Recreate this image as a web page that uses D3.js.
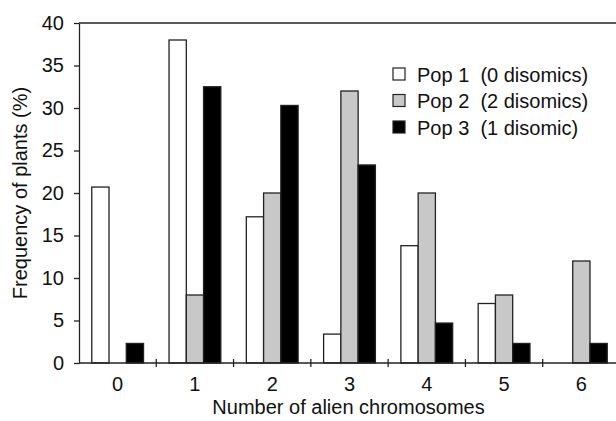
<!DOCTYPE html>
<html>
<head>
<meta charset="utf-8">
<script src="https://cdn.jsdelivr.net/npm/d3@7.9.0/dist/d3.min.js"></script>
<style>
  body { margin: 0; background: #fff; }
  svg { display: block; font-family: "Liberation Sans", Arial, sans-serif; }
</style>
</head>
<body>
<svg id="chart" width="616" height="421"></svg>
<script>
// data
const categories = ['0', '1', '2', '3', '4', '5', '6'];
const seriesNames = ['Pop 1  (0 disomics)', 'Pop 2  (2 disomics)', 'Pop 3  (1 disomic)'];
const seriesColors = ['#ffffff', '#c8c8c8', '#000000'];
const pop1 = [20.7, 38.0, 17.2, 3.4, 13.8, 7.0, 0];
const pop2 = [0, 8.0, 20.0, 32.0, 20.0, 8.0, 12.0];
const pop3 = [2.3, 32.5, 30.3, 23.3, 4.7, 2.3, 2.3];
const yTicks = [0, 5, 10, 15, 20, 25, 30, 35, 40];

const series = [pop1, pop2, pop3];
const ink = '#222';
const fontSize = 20;

const svg = d3.select('#chart');
const plotLeft = 79, plotRight = 620, plotTop = 23, plotBottom = 363;

const x = d3.scaleBand().domain(categories).range([plotLeft, plotRight]).paddingInner(0);
const bw = x.bandwidth();
const xs = d3.scaleBand().domain(d3.range(series.length)).range([bw * 0.165, bw * 0.835]);
const y = d3.scaleLinear().domain([0, 40]).range([plotBottom, plotTop]);

// bars
series.forEach((vals, si) => {
  svg.append('g').selectAll('rect')
    .data(vals.map((v, i) => ({ cat: categories[i], v })).filter(d => d.v > 0))
    .join('rect')
    .attr('x', d => x(d.cat) + xs(si))
    .attr('y', d => y(d.v))
    .attr('width', xs.bandwidth())
    .attr('height', d => y(0) - y(d.v))
    .attr('fill', seriesColors[si])
    .attr('stroke', ink)
    .attr('stroke-width', 1.3);
});

// top frame line
svg.append('line')
  .attr('x1', plotLeft).attr('x2', plotRight)
  .attr('y1', y(40)).attr('y2', y(40))
  .attr('stroke', ink).attr('stroke-width', 1.3);

// y axis
const yAxis = svg.append('g')
  .attr('transform', `translate(${plotLeft},0)`)
  .call(d3.axisLeft(y).tickValues(yTicks).tickSize(5).tickSizeOuter(0).tickPadding(10));
yAxis.selectAll('path, line').attr('stroke', ink).attr('stroke-width', 1.3);
yAxis.selectAll('text').attr('font-size', fontSize).attr('fill', '#111')
  .attr('font-family', '"Liberation Sans", Arial, sans-serif');

// x axis: baseline, ticks between groups, labels at centers
svg.append('line')
  .attr('x1', plotLeft).attr('x2', plotRight)
  .attr('y1', plotBottom).attr('y2', plotBottom)
  .attr('stroke', ink).attr('stroke-width', 1.3);

svg.append('g').selectAll('line')
  .data(categories.slice(1))
  .join('line')
  .attr('x1', d => x(d)).attr('x2', d => x(d))
  .attr('y1', plotBottom - 4).attr('y2', plotBottom + 4)
  .attr('stroke', ink).attr('stroke-width', 1.3);

svg.append('g').selectAll('text')
  .data(categories)
  .join('text')
  .attr('x', d => x(d) + bw / 2)
  .attr('y', 391)
  .attr('text-anchor', 'middle')
  .attr('font-size', fontSize)
  .attr('fill', '#111')
  .text(d => d);

// axis titles
svg.append('text')
  .attr('x', 348.5).attr('y', 414)
  .attr('text-anchor', 'middle')
  .attr('font-size', fontSize).attr('fill', '#111')
  .text('Number of alien chromosomes');

svg.append('text')
  .attr('transform', `translate(27,${(plotTop + plotBottom) / 2}) rotate(-90)`)
  .attr('text-anchor', 'middle')
  .attr('font-size', fontSize).attr('fill', '#111')
  .text('Frequency of plants (%)');

// legend
const legend = svg.append('g').attr('transform', 'translate(393,68)');
seriesNames.forEach((name, i) => {
  const row = legend.append('g').attr('transform', `translate(0,${i * 26.5})`);
  row.append('rect')
    .attr('width', 12).attr('height', 12)
    .attr('fill', seriesColors[i])
    .attr('stroke', ink).attr('stroke-width', 1.2);
  row.append('text')
    .attr('x', 24).attr('y', 13.5)
    .attr('font-size', fontSize).attr('fill', '#111')
    .style('white-space', 'pre')
    .text(name);
});
</script>
</body>
</html>
